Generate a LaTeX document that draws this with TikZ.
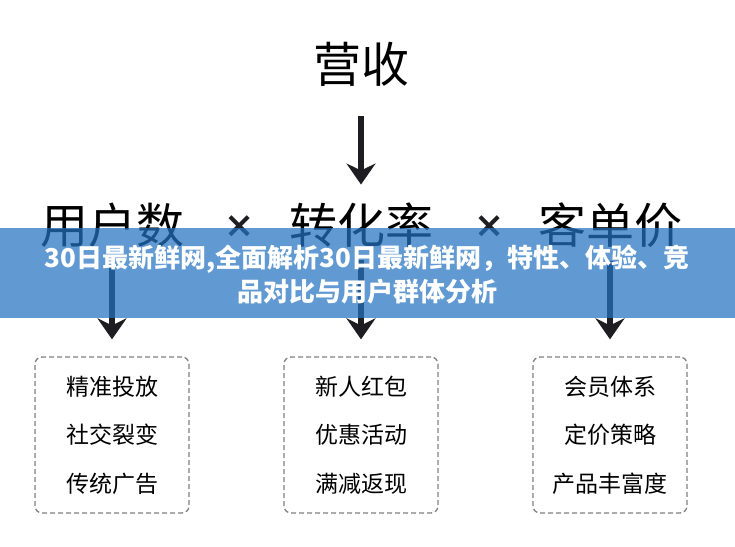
\documentclass[tikz,border=0pt]{standalone}
\usepackage{fontspec}
\setmainfont{Noto Sans CJK SC}
\newfontfamily\symfont{DejaVu Sans}
\usetikzlibrary{arrows.meta}
\definecolor{bannerblue}{RGB}{36,114,192}
\definecolor{boxgray}{RGB}{128,128,128}
\definecolor{arrowink}{RGB}{30,30,34}

\begin{document}
\begin{tikzpicture}[x=1pt,y=-1pt,
  big/.style={font=\fontsize{48}{48}\selectfont, inner sep=0pt},
  times/.style={font=\symfont\bfseries\fontsize{36}{36}\selectfont, inner sep=0pt, text=arrowink},
  itembox/.style={draw=boxgray, dash pattern=on 5pt off 3pt, line width=1.3pt,
    rounded corners=7pt, minimum width=154pt, minimum height=156pt,
    align=center, font=\fontsize{23}{48.5}\selectfont},
  bigarrow/.style={arrowink, line width=5.5pt, -{Stealth[length=21pt,width=29pt,inset=7pt]}},
  banner/.style={text=white, align=center, font=\fontsize{26}{34}\selectfont\bfseries}]
\useasboundingbox (0,0) rectangle (735,546);
% top: revenue split into three factors
\node[big] (rev) at (361,64) {营收};
\node[big] (users) at (112,225) {用户数};
\node[times] (x1) at (240,227) {×};
\node[big] (conv) at (361,225) {转化率};
\node[times] (x2) at (490,227) {×};
\node[big] (price) at (610,225) {客单价};
\draw[bigarrow, shorten <=30pt, shorten >=18pt] (rev.south) -- (conv.north);
% dashed boxes with the levers
\node[itembox] (b1) at (112,435) {精准投放\\社交裂变\\传统广告};
\node[itembox] (b2) at (361,435) {新人红包\\优惠活动\\满减返现};
\node[itembox] (b3) at (610,435) {会员体系\\定价策略\\产品丰富度};
\foreach \a/\b in {users/b1, conv/b2, price/b3}
  \draw[bigarrow, shorten <=13pt, shorten >=17pt] (\a.south) -- (\b.north);
% banner over the middle
\fill[bannerblue, fill opacity=0.72] (0,228) rectangle (735,318);
\node[banner] (title) at (367,275) {30日最新鲜网,全面解析30日最新鲜网，特性、体验、竞\\品对比与用户群体分析};
\end{tikzpicture}
\end{document}
